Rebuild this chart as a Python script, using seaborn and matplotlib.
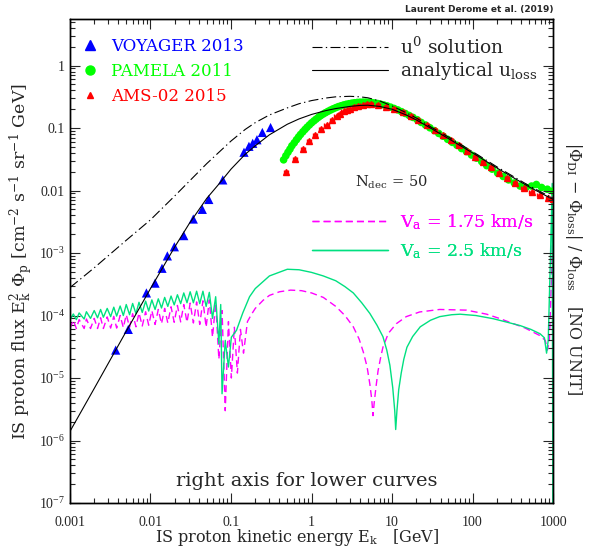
import numpy as np
import pandas as pd
import matplotlib
matplotlib.use('Agg')
import matplotlib.pyplot as plt
from matplotlib.lines import Line2D
import seaborn as sns

# ---- data ----
u0_E = [0.001, 0.002, 0.005, 0.01, 0.02, 0.05, 0.1, 0.15, 0.2, 0.3, 0.5, 0.7, 1, 1.5, 2, 3, 4, 5, 7,
        10, 15, 20, 30, 50, 100, 200, 500, 1000]
u0_F = [2.8e-4, 5.8e-4, 1.6e-3, 3.4e-3, 8.2e-3, 0.027, 0.062, 0.095, 0.122, 0.162, 0.21, 0.245,
        0.275, 0.302, 0.316, 0.322, 0.316, 0.305, 0.272, 0.226, 0.176, 0.145, 0.105, 0.072, 0.042,
        0.024, 0.012, 0.0075]

uloss_E = [0.001, 0.002, 0.005, 0.01, 0.02, 0.03, 0.05, 0.07, 0.1, 0.15, 0.2, 0.3, 0.5, 0.7, 1, 1.5,
           2, 3, 4, 5, 7, 10, 15, 20, 30, 50, 100, 200, 500, 1000]
uloss_F = [1.4e-6, 6.8e-6, 5.6e-5, 2.7e-4, 1.25e-3, 2.9e-3, 7.5e-3, 0.0125, 0.022, 0.038, 0.052,
           0.078, 0.115, 0.14, 0.165, 0.19, 0.205, 0.222, 0.23, 0.232, 0.222, 0.2, 0.162, 0.135,
           0.1, 0.068, 0.04, 0.023, 0.0115, 0.0072]

voy_E = [0.0037, 0.0053, 0.0089, 0.0114, 0.0139, 0.0162, 0.0198, 0.0259, 0.034, 0.044, 0.053,
         0.079, 0.145, 0.167, 0.186, 0.21, 0.245, 0.31]
voy_F = [2.8e-5, 6.0e-5, 2.3e-4, 3.3e-4, 5.7e-4, 9.0e-4, 1.26e-3, 1.9e-3, 3.5e-3, 5.0e-3, 7.2e-3,
         0.0148, 0.041, 0.051, 0.057, 0.065, 0.085, 0.102]

pam_E = [0.45, 0.48, 0.51, 0.54, 0.57, 0.61, 0.65, 0.69, 0.73, 0.78, 0.83, 0.88, 0.94, 1.0, 1.07,
         1.14, 1.22, 1.3, 1.39, 1.49, 1.6, 1.72, 1.85, 2.0, 2.15, 2.32, 2.5, 2.7, 2.92, 3.16, 3.42,
         3.7, 4.0, 4.35, 4.7, 5.1, 5.55, 6.0, 6.6, 7.2, 7.9, 8.7, 9.6, 10.6, 11.8, 13.1, 14.6, 16.3,
         18.2, 20.5, 23, 26, 29.5, 33.5, 38, 43, 49, 56, 64, 73, 84, 97, 112, 130, 150, 175, 205,
         240, 280, 330, 390, 460, 540, 620, 720, 850, 1000]
pam_F = [0.031, 0.036, 0.041, 0.046, 0.052, 0.058, 0.065, 0.072, 0.079, 0.087, 0.095, 0.103, 0.112,
         0.121, 0.130, 0.139, 0.149, 0.158, 0.167, 0.176, 0.185, 0.194, 0.203, 0.212, 0.220, 0.227,
         0.234, 0.240, 0.245, 0.250, 0.254, 0.257, 0.259, 0.260, 0.260, 0.259, 0.256, 0.252, 0.247,
         0.241, 0.234, 0.226, 0.216, 0.206, 0.195, 0.183, 0.171, 0.159, 0.148, 0.136, 0.123, 0.112,
         0.101, 0.091, 0.082, 0.074, 0.066, 0.059, 0.053, 0.047, 0.042, 0.037, 0.033, 0.029, 0.025,
         0.022, 0.019, 0.0168, 0.0148, 0.0132, 0.0118, 0.0112, 0.0118, 0.0125, 0.0112, 0.0105, 0.0098]

ams_E = [0.48, 0.62, 0.78, 0.94, 1.1, 1.3, 1.54, 1.78, 2.05, 2.25, 2.5, 2.75, 3.0, 3.4, 3.8, 4.3,
         4.9, 5.5, 6.7, 8.4, 10.7, 13.5, 17, 21, 27, 34, 43, 54, 67, 85, 107, 135, 170, 215, 270,
         340, 430, 540, 680, 860, 1000]
ams_F = [0.020, 0.032, 0.046, 0.061, 0.078, 0.096, 0.113, 0.135, 0.157, 0.17, 0.185, 0.193, 0.20,
         0.215, 0.226, 0.235, 0.24, 0.24, 0.235, 0.22, 0.2, 0.18, 0.157, 0.134, 0.113, 0.094, 0.078,
         0.064, 0.053, 0.043, 0.035, 0.029, 0.0235, 0.019, 0.016, 0.0132, 0.011, 0.0096, 0.0085,
         0.0077, 0.0072]

# relative differences (right axis), V_a = 1.75 km/s
mag_E = [0.0010, 0.0011, 0.0012, 0.0013, 0.0015, 0.0016, 0.0018, 0.0020, 0.0022, 0.0024, 0.0026,
         0.0029, 0.0032, 0.0035, 0.0038, 0.0042, 0.0046, 0.0050, 0.0055, 0.0060, 0.0066, 0.0072,
         0.0079, 0.0087, 0.0095, 0.0104, 0.0114, 0.0125, 0.0137, 0.0150, 0.0164, 0.0180, 0.0197,
         0.0216, 0.0237, 0.0259, 0.0284, 0.0311, 0.0341, 0.0374, 0.0409, 0.0448, 0.0491, 0.0538,
         0.0589, 0.0645, 0.0707, 0.0774, 0.0848, 0.0929, 0.101, 0.110, 0.120, 0.131, 0.143,
         0.16, 0.18, 0.2, 0.25, 0.3, 0.4, 0.55, 0.75, 1.0, 1.4, 2.0, 2.6, 3.3, 3.9, 4.4, 4.9, 5.3,
         5.6, 5.8, 6.0, 6.3, 6.7, 7.2, 7.7, 9, 11.3, 15, 22, 39, 84, 150, 220, 450, 680, 800, 850,
         900, 960, 1000]
mag_V = [6.2e-5, 8.4e-5, 6.2e-5, 8.6e-5, 6.2e-5, 8.8e-5, 6.2e-5, 9.0e-5, 6.2e-5, 9.2e-5, 6.2e-5,
         9.5e-5, 6.3e-5, 9.7e-5, 6.3e-5, 1.0e-4, 6.4e-5, 1.03e-4, 6.5e-5, 1.07e-4, 6.6e-5, 1.1e-4,
         6.8e-5, 1.15e-4, 7.0e-5, 1.2e-4, 7.2e-5, 1.25e-4, 7.4e-5, 1.3e-4, 7.6e-5, 1.38e-4, 7.8e-5,
         1.45e-4, 7.9e-5, 1.5e-4, 7.8e-5, 1.58e-4, 7.6e-5, 1.65e-4, 7.2e-5, 1.72e-4, 6.5e-5, 1.78e-4,
         4.5e-5, 1.6e-4, 2.0e-5, 1.2e-4, 3.0e-6, 8.0e-5, 1.0e-5, 6.5e-5, 1.2e-5, 6.0e-5, 2.5e-5,
         8.0e-5, 1.05e-4, 1.3e-4, 1.75e-4, 2.1e-4, 2.4e-4, 2.55e-4, 2.5e-4, 2.3e-4, 1.95e-4, 1.4e-4,
         1.0e-4, 6.6e-5, 4.2e-5, 2.6e-5, 1.5e-5, 8e-6, 4.5e-6, 2.5e-6, 4e-6, 7e-6, 1.3e-5, 2.1e-5,
         3.1e-5, 5.2e-5, 7.4e-5, 9.6e-5, 1.14e-4, 1.25e-4, 1.22e-4, 1.05e-4, 8.9e-5, 6.3e-5, 4.8e-5,
         4.0e-5, 2.8e-5, 4e-5, 5e-4, 5e-3]

# V_a = 2.5 km/s
grn_E = [0.0010, 0.0011, 0.0012, 0.0013, 0.0015, 0.0016, 0.0018, 0.0020, 0.0022, 0.0024, 0.0026,
         0.0029, 0.0032, 0.0035, 0.0038, 0.0042, 0.0046, 0.0050, 0.0055, 0.0060, 0.0066, 0.0072,
         0.0079, 0.0087, 0.0095, 0.0104, 0.0114, 0.0125, 0.0137, 0.0150, 0.0164, 0.0180, 0.0197,
         0.0216, 0.0237, 0.0259, 0.0284, 0.0311, 0.0341, 0.0374, 0.0409, 0.0448, 0.0491, 0.0538,
         0.0589, 0.0645, 0.0707, 0.0745, 0.0774, 0.0848, 0.0929, 0.101, 0.117, 0.14, 0.17, 0.2,
         0.3, 0.5, 0.7, 1.0, 1.4, 2.0, 2.6, 3.3, 4.2, 5.3, 6.5, 7.7, 8.6, 9.4, 10.2, 10.8, 11.1,
         11.5, 12.1, 13, 14, 15.3, 18, 22.4, 30, 39, 55, 70, 110, 180, 270, 390, 530, 690, 780,
         830, 870, 930, 975, 1000]
grn_V = [8.5e-5, 1.06e-4, 8.6e-5, 1.1e-4, 8.8e-5, 1.15e-4, 9.0e-5, 1.2e-4, 9.2e-5, 1.25e-4, 9.4e-5,
         1.3e-4, 9.6e-5, 1.36e-4, 9.8e-5, 1.42e-4, 1.0e-4, 1.5e-4, 1.03e-4, 1.56e-4, 1.07e-4, 1.63e-4,
         1.12e-4, 1.7e-4, 1.18e-4, 1.78e-4, 1.25e-4, 1.85e-4, 1.32e-4, 1.95e-4, 1.4e-4, 2.05e-4,
         1.48e-4, 2.15e-4, 1.55e-4, 2.3e-4, 1.6e-4, 2.4e-4, 1.6e-4, 2.45e-4, 1.55e-4, 2.45e-4,
         1.4e-4, 2.35e-4, 9e-5, 2.0e-4, 3.5e-5, 1.5e-4, 5.6e-6, 4.0e-5, 1.5e-5, 4.5e-5, 5.8e-5,
         1.1e-4, 2.0e-4, 2.7e-4, 4.3e-4, 5.5e-4, 5.4e-4, 4.9e-4, 4.3e-4, 3.6e-4, 2.9e-4, 2.3e-4,
         1.6e-4, 1.08e-4, 7.0e-5, 4.6e-5, 2.8e-5, 1.6e-5, 7e-6, 3e-6, 1.5e-6, 3e-6, 6.5e-6, 1.2e-5,
         2.0e-5, 3.1e-5, 4.6e-5, 6.6e-5, 8.4e-5, 9.6e-5, 1.03e-4, 1.05e-4, 1.0e-4, 8.9e-5, 7.8e-5,
         6.9e-5, 6.0e-5, 5.1e-5, 4.4e-5, 2.5e-5, 4e-5, 1e-3, 0.013, 1e-9]

x_ticks = [0.001, 0.01, 0.1, 1, 10, 100, 1000]
x_labels = ['0.001', '0.01', '0.1', '1', '10', '100', '1000']
y_ticks = [1e-7, 1e-6, 1e-5, 1e-4, 1e-3, 0.01, 0.1, 1]
y_labels = ['$10^{-7}$', '$10^{-6}$', '$10^{-5}$', '$10^{-4}$', '$10^{-3}$', '0.01', '0.1', '1']

C_VOY, C_PAM, C_AMS = '#0000ff', '#00ff00', '#ff0000'
C_MAG, C_GRN = '#ff00ff', '#00e080'
DASHDOT = [9, 3, 1.2, 3]

sns.set_theme(style='ticks')
plt.rcParams['font.family'] = ['DejaVu Serif']
plt.rcParams['mathtext.fontset'] = 'custom'
plt.rcParams['mathtext.rm'] = 'DejaVu Serif'
plt.rcParams['mathtext.default'] = 'regular'

fig = plt.figure(figsize=(5.96, 5.51), dpi=100)
ax = fig.add_axes([0.1174, 0.0871, 0.8106, 0.8779])
ax2 = ax.twinx()

# lower curves (read on the right axis, same decades)
sns.lineplot(x=mag_E, y=mag_V, ax=ax, color=C_MAG, lw=1.0, sort=False, estimator=None, zorder=2)
ax.lines[-1].set_dashes([5, 3])
sns.lineplot(x=grn_E, y=grn_V, ax=ax, color=C_GRN, lw=1.0, sort=False, estimator=None, zorder=2)

# data
sns.scatterplot(x=pam_E, y=pam_F, ax=ax, color=C_PAM, marker='o', s=30, edgecolor='none', zorder=3)
ams = pd.DataFrame({'E': ams_E, 'F': ams_F})
ax.errorbar(ams['E'], ams['F'], xerr=[ams['E'] * 0.06, ams['E'] * 0.06], yerr=ams['F'] * 0.04,
            fmt='^', ms=4, color=C_AMS, ecolor=C_AMS, elinewidth=1, capsize=1.5, zorder=4)
sns.scatterplot(x=voy_E, y=voy_F, ax=ax, color=C_VOY, marker='^', s=44, edgecolor='none', zorder=5)

# theory curves on top
sns.lineplot(x=u0_E, y=u0_F, ax=ax, color='black', lw=0.8, sort=False, estimator=None, zorder=6)
ax.lines[-1].set_dashes(DASHDOT)
sns.lineplot(x=uloss_E, y=uloss_F, ax=ax, color='black', lw=0.8, sort=False, estimator=None,
             zorder=6)

for a in (ax, ax2):
    a.set_xscale('log')
    a.set_yscale('log')
    a.set_xlim(0.001, 1000)
    a.set_ylim(1e-7, 5.5)
    for s in a.spines.values():
        s.set_linewidth(1.0)
        s.set_color('black')

ax.set_xticks(x_ticks)
ax.set_xticklabels(x_labels, fontsize=10, family='Liberation Serif')
ax.set_yticks(y_ticks)
ax.set_yticklabels(y_labels, fontsize=10, family='Liberation Serif')
ax.tick_params(which='major', direction='in', length=7, width=0.8, top=True, right=False)
ax.tick_params(which='minor', direction='in', length=3.5, width=0.8, top=True, right=False)
ax.tick_params(axis='x', which='major', pad=9)
ax2.set_yticks(y_ticks)
ax2.set_yticklabels([])
ax2.tick_params(which='major', direction='in', length=7, width=0.8)
ax2.tick_params(which='minor', direction='in', length=3.5, width=0.8)
ax2.set_ylabel('')

ax.set_xlabel('IS proton kinetic energy E$_{k}$   [GeV]', fontsize=11.5)
ax.xaxis.set_label_coords(0.47, -0.05)
ax.set_ylabel('IS proton flux E$_{k}^{2}$ Φ$_{p}$ [cm$^{-2}$ s$^{-1}$ sr$^{-1}$ GeV]',
              fontsize=12.5, labelpad=2)
fig.text(0.962, 0.513, '|Φ$_{DI}$ − Φ$_{loss}$| / Φ$_{loss}$   [NO UNIT]',
         rotation=270, fontsize=11.5, ha='center', va='center')

# legends
h_data = [Line2D([], [], ls='none', marker='^', ms=7, color=C_VOY),
          Line2D([], [], ls='none', marker='o', ms=6.5, color=C_PAM),
          Line2D([], [], ls='none', marker='^', ms=5, color=C_AMS)]
leg1 = ax.legend(h_data, ['VOYAGER 2013', 'PAMELA 2011', 'AMS-02 2015'],
                 labelcolor=[C_VOY, C_PAM, C_AMS], loc='upper left', bbox_to_anchor=(0.025, 0.962),
                 borderpad=0, borderaxespad=0, frameon=False, fontsize=12, handlelength=1.0,
                 handletextpad=0.74, labelspacing=0.5)
ax.add_artist(leg1)

h_th = [Line2D([], [], color='black', lw=0.8, dashes=DASHDOT),
        Line2D([], [], color='black', lw=0.8)]
leg2 = ax.legend(h_th, ['u$^{0}$ solution', 'analytical u$_{loss}$'], loc='upper left',
                 bbox_to_anchor=(0.501, 0.965), borderpad=0, borderaxespad=0, frameon=False,
                 fontsize=13.5, handlelength=4.05, handletextpad=0.64, labelspacing=0.15)
ax.add_artist(leg2)

h_va = [Line2D([], [], color=C_MAG, lw=1.0, dashes=[5, 3]),
        Line2D([], [], color=C_GRN, lw=1.0)]
leg3 = ax.legend(h_va, ['V$_{a}$ = 1.75 km/s', 'V$_{a}$ = 2.5 km/s'],
                 labelcolor=[C_MAG, C_GRN], loc='upper left', bbox_to_anchor=(0.501, 0.602),
                 borderpad=0, borderaxespad=0, frameon=False, fontsize=12.5, handlelength=4.37,
                 handletextpad=0.7, labelspacing=0.55)
ax.add_artist(leg3)

ax.text(0.59, 0.662, 'N$_{dec}$ = 50', transform=ax.transAxes, fontsize=10.5,
        ha='left', va='center')
ax.text(0.49, 0.045, 'right axis for lower curves', transform=ax.transAxes, fontsize=14,
        ha='center', va='center')
fig.text(0.928, 0.982, 'Laurent Derome et al. (2019)', fontsize=6.5, fontweight='bold',
         family='DejaVu Sans', ha='right', va='center')

fig.savefig('out.png', dpi=100)
